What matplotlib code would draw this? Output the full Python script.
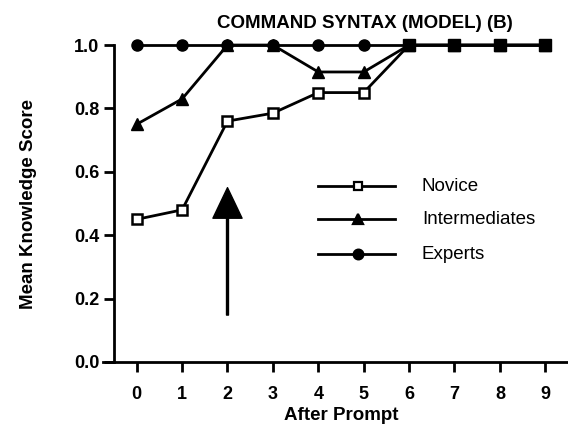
import matplotlib
matplotlib.use('Agg')
import matplotlib.pyplot as plt

# Datos
prompts = [0, 1, 2, 3, 4, 5, 6, 7, 8, 9]
novice = [0.45, 0.48, 0.76, 0.785, 0.85, 0.85, 1.0, 1.0, 1.0, 1.0]
intermediates = [0.75, 0.83, 1.0, 1.0, 0.915, 0.915, 1.0, 1.0, 1.0, 1.0]
experts = [1.0, 1.0, 1.0, 1.0, 1.0, 1.0, 1.0, 1.0, 1.0, 1.0]
arrow_x = 2

plt.rcParams['font.family'] = ['Liberation Sans', 'DejaVu Sans']

fig = plt.figure(figsize=(5.68, 4.33), dpi=100)
ax = fig.add_axes([0.2007, 0.164, 0.7993, 0.732])

lw = 2
ax.plot(prompts, experts, color='black', lw=lw, marker='o', markersize=8, clip_on=False, zorder=3)
ax.plot(prompts, intermediates, color='black', lw=lw, marker='^', markersize=8, clip_on=False, zorder=4)
ax.plot(prompts, novice, color='black', lw=lw, marker='s', markersize=7, markerfacecolor='white',
        markeredgewidth=1.8, markevery=slice(0, 6), clip_on=False, zorder=5)
# en 6-9 los cuadrados quedan rellenos por los marcadores de abajo
ax.plot(prompts[6:], novice[6:], linestyle='none', color='black', marker='s', markersize=8,
        clip_on=False, zorder=6)

# flecha en el prompt 2
ax.annotate('', xy=(arrow_x, 0.55), xytext=(arrow_x, 0.148),
            arrowprops=dict(width=1.4, headwidth=21, headlength=22, facecolor='black', edgecolor='black'))

# leyenda manual
legend_items = [('Novice', 's', 'white', 0.555), ('Intermediates', '^', 'black', 0.45), ('Experts', 'o', 'black', 0.34)]
for label, m, fc, yy in legend_items:
    ax.plot([3.99, 5.68], [yy, yy], color='black', lw=lw)
    ax.plot([4.87], [yy], color='black', marker=m, markersize=7 if m != 's' else 6,
            markerfacecolor=fc, markeredgewidth=1.6)
    ax.text(6.28, yy, label, fontsize=13.5, va='center', ha='left')

ax.set_xlim(-0.5, 9.5)
ax.set_ylim(0, 1.0)
ax.set_xticks(prompts)
ax.set_yticks([0.0, 0.2, 0.4, 0.6, 0.8, 1.0])
ax.set_yticklabels(['0.0', '0.2', '0.4', '0.6', '0.8', '1.0'])
ax.spines['top'].set_visible(False)
ax.spines['right'].set_visible(False)
ax.spines['left'].set_linewidth(2)
ax.spines['bottom'].set_linewidth(2)
ax.spines['bottom'].set_bounds(-0.75, 9.5)
ax.tick_params(axis='both', direction='out', length=7, width=2, labelsize=13)
ax.tick_params(axis='x', pad=10)
for t in ax.get_xticklabels() + ax.get_yticklabels():
    t.set_fontweight('bold')

ax.set_xlabel('After Prompt', fontsize=13.5, fontweight='bold', labelpad=3)
ax.set_ylabel('Mean Knowledge Score', fontsize=13.5, fontweight='bold', labelpad=27)
ax.set_title('COMMAND SYNTAX (MODEL) (B)', fontsize=13.5, fontweight='bold', pad=12, x=0.553)

fig.savefig('out.png', dpi=100)
